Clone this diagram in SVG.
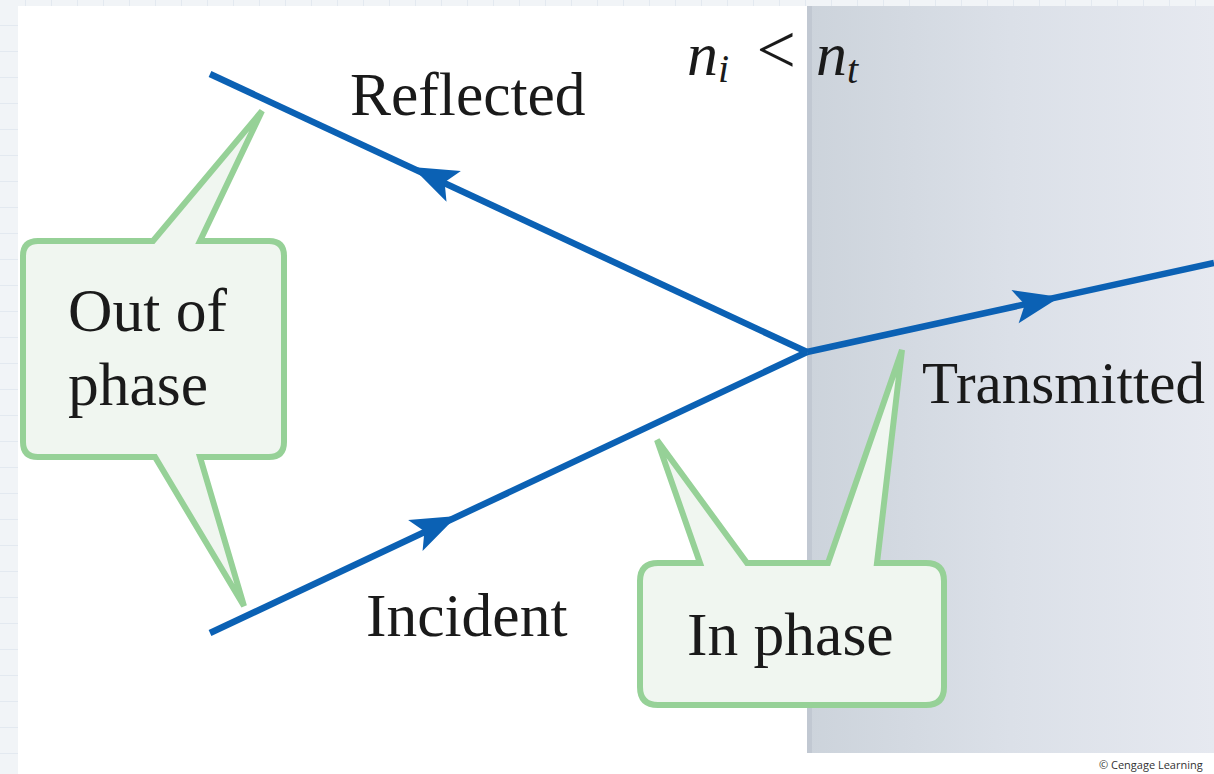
<svg xmlns="http://www.w3.org/2000/svg" width="1214" height="774" viewBox="0 0 1214 774">
<defs>
<pattern id="grid" width="26" height="26" patternUnits="userSpaceOnUse">
<rect width="26" height="26" fill="#f1f4f7"/>
<path d="M26,0 V26 M0,26 H26" stroke="#dfe6ee" stroke-width="1.5" fill="none"/>
</pattern>
<linearGradient id="glass" x1="0" y1="0" x2="1" y2="0">
<stop offset="0" stop-color="#ccd3db"/>
<stop offset="0.5" stop-color="#dbe0e8"/>
<stop offset="1" stop-color="#e6e9f0"/>
</linearGradient>
<path id="arr" d="M0,0 L-46,-17 L-36,0 L-46,17 Z"/>
<style>
.ray{stroke:#0b61b4;stroke-width:6.5;fill:none}
.head{fill:#0b61b4}
.call{fill:#f0f6f0;stroke:#96d197;stroke-width:6;stroke-linejoin:miter}
.lbl{font-family:"Liberation Serif","Times New Roman",serif;font-size:61.5px;fill:#1a1a1a}
.math{font-family:"Liberation Serif","Times New Roman",serif;font-style:italic;fill:#1a1a1a}
</style>
</defs>
<rect width="1214" height="774" fill="url(#grid)"/>
<rect x="18" y="6" width="1196" height="768" fill="#ffffff"/>
<g id="medium">
<rect x="807" y="6" width="407" height="747" fill="url(#glass)"/>
<rect x="807" y="6" width="5" height="747" fill="#c1c8d2"/>
</g>
<g id="connectors">
<path class="ray" d="M210,633 L807,352"/>
<path class="ray" d="M807,352 L210,74"/>
<path class="ray" d="M807,352 L1214,263"/>
<use href="#arr" class="head" transform="translate(412,167) rotate(205)"/>
<use href="#arr" class="head" transform="translate(457,516) rotate(-25.1)"/>
<use href="#arr" class="head" transform="translate(1060,297) rotate(-12.2)"/>
</g>
<g id="label-reflected"><text class="lbl" x="350" y="115">Reflected</text></g>
<g id="label-incident"><text class="lbl" x="366" y="636">Incident</text></g>
<g id="label-transmitted"><text class="lbl" x="922" y="403" style="font-size:59px">Transmitted</text></g>
<g id="label-index">
<text class="math" x="687" y="75" font-size="62">n<tspan font-size="40" dy="7">i</tspan></text>
<text class="math" x="752" y="73" font-size="70" font-style="normal">&lt;</text>
<text class="math" x="816" y="75" font-size="62">n<tspan font-size="40" dy="8">t</tspan></text>
</g>
<g id="callout-out-of-phase">
<path class="call" d="M38,241 L153,241 L262,111 L200,241 L269,241 Q284,241 284,256 L284,442 Q284,457 269,457 L200,457 L244,606 L155,457 L38,457 Q23,457 23,442 L23,256 Q23,241 38,241 Z"/>
<text class="lbl" x="68" y="331">Out of</text>
<text class="lbl" x="68" y="405">phase</text>
</g>
<g id="callout-in-phase">
<path class="call" d="M658,563 L700,563 L657,440 L747,563 L828,563 L902,350 L877,563 L926,563 Q944,563 944,581 L944,687 Q944,705 926,705 L658,705 Q640,705 640,687 L640,581 Q640,563 658,563 Z"/>
<text class="lbl" x="687" y="655">In phase</text>
</g>
<g id="credit"><text x="1099" y="769" font-family="'Open Sans','Liberation Sans',sans-serif" font-size="11" fill="#333">© Cengage Learning</text></g>
</svg>
